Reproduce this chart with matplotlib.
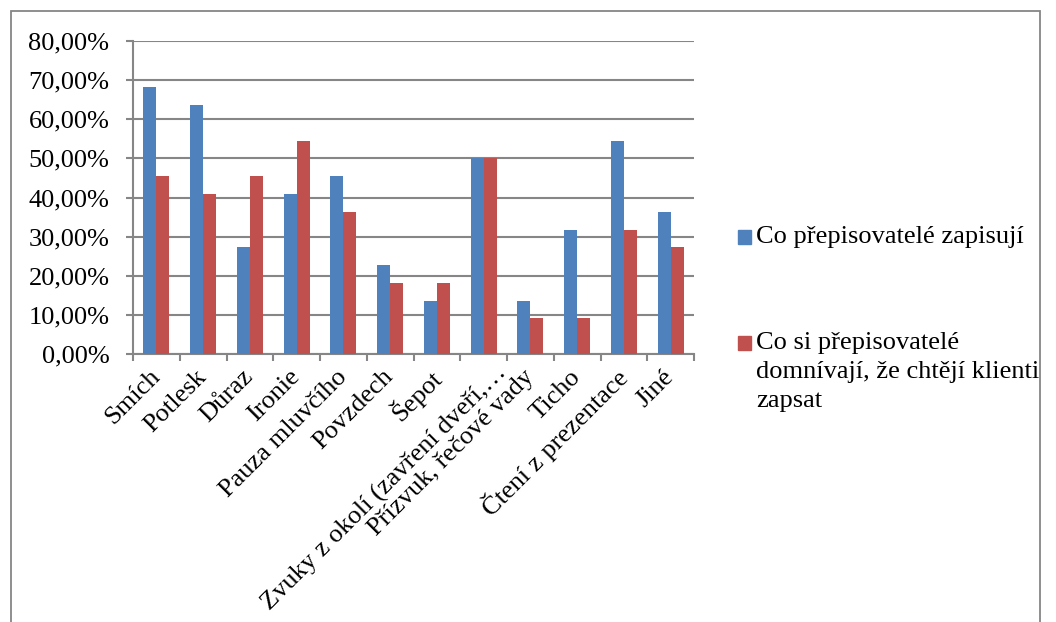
import matplotlib.pyplot as plt
import matplotlib.transforms as mtransforms
import numpy as np
from matplotlib.patches import Rectangle
from matplotlib.ticker import FuncFormatter, MultipleLocator

plt.rcParams['font.family'] = ['Liberation Serif', 'DejaVu Serif']

categories = ['Smích', 'Potlesk', 'Důraz', 'Ironie', 'Pauza mluvčího', 'Povzdech',
              'Šepot', 'Zvuky z okolí (zavření dveří,…', 'Přízvuk, řečové vady',
              'Ticho', 'Čtení z prezentace', 'Jiné']
zapisuji = [68.18, 63.64, 27.27, 40.91, 45.45, 22.73, 13.64, 50.00, 13.64, 31.82, 54.55, 36.36]
chteji = [45.45, 40.91, 45.45, 54.55, 36.36, 18.18, 18.18, 50.00, 9.09, 9.09, 31.82, 27.27]
labels = ['Co přepisovatelé zapisují',
          'Co si přepisovatelé\ndomnívají, že chtějí klienti\nzapsat']

blue = '#4F81BD'
red = '#C0504D'
grey = '#868686'
W, H = 1056, 622

fig = plt.figure(figsize=(W / 100, H / 100), dpi=100)
ax = fig.add_axes([133 / W, 1 - 354 / H, 561 / W, 313 / H])

# outer chart frame
fig.patches.append(Rectangle((11 / W, -0.1), 1029 / W, 1.1 - 11 / H,
                             transform=fig.transFigure, fill=False,
                             edgecolor=grey, linewidth=1.3))

x = np.arange(len(categories))
w = 0.28
ax.bar(x - w / 2, zapisuji, w, color=blue, zorder=3)
ax.bar(x + w / 2, chteji, w, color=red, zorder=3)

ax.set_xlim(-0.5, len(categories) - 0.5)
ax.set_ylim(0, 80)
ax.yaxis.set_major_locator(MultipleLocator(10))
ax.yaxis.set_major_formatter(FuncFormatter(lambda v, p: f'{v:.2f}'.replace('.', ',') + '%'))
ax.grid(axis='y', color=grey, linewidth=1.5, zorder=0)
ax.set_axisbelow(True)

for s in ['top', 'right']:
    ax.spines[s].set_visible(False)
for s in ['left', 'bottom']:
    ax.spines[s].set_color(grey)
    ax.spines[s].set_linewidth(1.5)

# category ticks sit on the group boundaries, names on the group centres
ax.set_xticks(np.arange(len(categories) + 1) - 0.5)
ax.set_xticklabels([])
ax.set_xticks(x, minor=True)
ax.set_xticklabels(categories, minor=True, rotation=45, ha='right', va='center',
                   rotation_mode='anchor', fontsize=19)
ax.tick_params(axis='x', which='minor', length=0, pad=14)
ax.tick_params(axis='x', which='major', length=5, width=1.5, color=grey)
ax.tick_params(axis='y', length=5, width=1.5, color=grey, labelsize=19, pad=12)

# the truncated label sits a little further right
lbl = ax.get_xticklabels(minor=True)[7]
lbl.set_transform(lbl.get_transform() +
                  mtransforms.ScaledTranslation(20 / 100, 4 / 100, fig.dpi_scale_trans))

# legend on the right, square keys next to the first line of each label
for i, (lab, col) in enumerate(zip(labels, [blue, red])):
    ytop = [230, 336][i]
    fig.patches.append(Rectangle((738 / W, 1 - (ytop + 14) / H), 13 / W, 14 / H,
                                 transform=fig.transFigure, color=col))
    fig.text(756 / W, 1 - ytop / H + 4 / H, lab, fontsize=19, ha='left',
             va='top', linespacing=1.42)

fig.savefig('out.png', dpi=100)
